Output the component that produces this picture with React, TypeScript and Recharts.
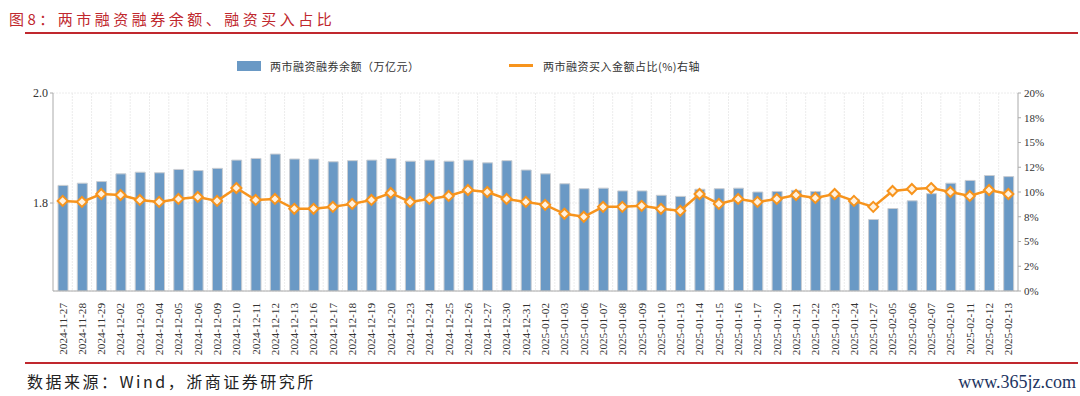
import React from 'react';
import { ComposedChart, Bar, Line, XAxis, YAxis, CartesianGrid } from 'recharts';

const dates = [
  '2024-11-27', '2024-11-28', '2024-11-29', '2024-12-02', '2024-12-03', '2024-12-04', '2024-12-05',
  '2024-12-06', '2024-12-09', '2024-12-10', '2024-12-11', '2024-12-12', '2024-12-13', '2024-12-16',
  '2024-12-17', '2024-12-18', '2024-12-19', '2024-12-20', '2024-12-23', '2024-12-24', '2024-12-25',
  '2024-12-26', '2024-12-27', '2024-12-30', '2024-12-31', '2025-01-02', '2025-01-03', '2025-01-06',
  '2025-01-07', '2025-01-08', '2025-01-09', '2025-01-10', '2025-01-13', '2025-01-14', '2025-01-15',
  '2025-01-16', '2025-01-17', '2025-01-20', '2025-01-21', '2025-01-22', '2025-01-23', '2025-01-24',
  '2025-01-27', '2025-02-05', '2025-02-06', '2025-02-07', '2025-02-10', '2025-02-11', '2025-02-12',
  '2025-02-13',
];

// 两市融资融券余额（万亿元）
const balance = [
  1.832, 1.836, 1.839, 1.853, 1.856, 1.855, 1.861,
  1.859, 1.863, 1.878, 1.881, 1.889, 1.880, 1.880,
  1.875, 1.877, 1.878, 1.881, 1.876, 1.878, 1.876,
  1.878, 1.873, 1.877, 1.860, 1.853, 1.835, 1.826,
  1.827, 1.822, 1.822, 1.814, 1.812, 1.825, 1.826,
  1.827, 1.820, 1.821, 1.823, 1.821, 1.818, 1.807,
  1.770, 1.790, 1.804, 1.817, 1.836, 1.841, 1.850,
  1.848,
];

// 两市融资买入金额占比(%)
const ratio = [
  9.1, 9.0, 9.8, 9.7, 9.2, 9.0, 9.3,
  9.5, 9.1, 10.4, 9.2, 9.3, 8.3, 8.3,
  8.5, 8.8, 9.2, 9.9, 9.0, 9.3, 9.6,
  10.2, 10.0, 9.3, 9.0, 8.7, 7.8, 7.5,
  8.5, 8.5, 8.6, 8.3, 8.1, 9.8, 8.8,
  9.3, 9.0, 9.3, 9.7, 9.4, 9.8, 9.1,
  8.5, 10.1, 10.3, 10.4, 10.0, 9.6, 10.2,
  9.8,
];

const leftTicks = [1.8, 2.0];
const rightTicks = [0, 2.5, 5, 7.5, 10, 12.5, 15, 17.5, 20];
const rightTickLabels = ['0%', '2%', '5%', '8%', '10%', '12%', '15%', '18%', '20%'];

const titleText = '图8：两市融资融券余额、融资买入占比';
const barName = '两市融资融券余额（万亿元）';
const lineName = '两市融资买入金额占比(%)右轴';
const sourceText = '数据来源：Wind，浙商证券研究所';
const siteText = 'www.365jz.com';

const data = dates.map((d, i) => ({ date: d, balance: balance[i], ratio: ratio[i] }));

const BAR_COLOR = '#6A99C5';
const LINE_COLOR = '#F7941D';
const RED = '#C0282E';
const SERIF = '"Liberation Serif", "Times New Roman", serif';
const CJK = '"Noto Sans CJK SC", sans-serif';

const Diamond = (props: any) => {
  const { cx, cy } = props;
  if (cx == null || cy == null) return null;
  const r = 5;
  return (
    <polygon
      points={`${cx},${cy - r} ${cx + r},${cy} ${cx},${cy + r} ${cx - r},${cy}`}
      fill="#FFF1DE"
      stroke={LINE_COLOR}
      strokeWidth={2}
    />
  );
};

const XTick = (props: any) => {
  const { x, y, payload } = props;
  return (
    <g transform={`translate(${x},${y + 4}) rotate(-90)`}>
      <text x={0} y={0} dy="0.35em" textAnchor="end" fontSize={11.2} fill="#333" fontFamily={SERIF}>
        {payload.value}
      </text>
    </g>
  );
};

const RightTick = (props: any) => {
  const { x, y, payload, index } = props;
  return (
    <text x={x + 1} y={y} dy="0.35em" textAnchor="start" fontSize={11} fill="#333" fontFamily={SERIF}>
      {rightTickLabels[index] ?? payload.value}
    </text>
  );
};

export default function App() {
  return (
    <div style={{ position: 'absolute', left: 0, top: 0, width: 1080, height: 396, background: '#fff', overflow: 'hidden' }}>
      <div
        style={{
          position: 'absolute', left: 9, top: 10, fontFamily: CJK, fontSize: 15, color: RED,
          letterSpacing: 3.5, lineHeight: '18px', whiteSpace: 'nowrap',
        }}
      >
        {titleText}
      </div>
      <div style={{ position: 'absolute', left: 25, top: 32, width: 1053, height: 2, background: RED }} />

      <div style={{ position: 'absolute', left: 237, top: 61, width: 24, height: 10, background: BAR_COLOR }} />
      <div
        style={{
          position: 'absolute', left: 270, top: 58, fontFamily: CJK, fontSize: 11, color: '#333',
          lineHeight: '16px', whiteSpace: 'nowrap', letterSpacing: 0.5,
        }}
      >
        {barName}
      </div>
      <div style={{ position: 'absolute', left: 509, top: 64, width: 24, height: 2.5, background: LINE_COLOR }} />
      <div
        style={{
          position: 'absolute', left: 543, top: 58, fontFamily: CJK, fontSize: 11, color: '#333',
          lineHeight: '16px', whiteSpace: 'nowrap', letterSpacing: 0.5,
        }}
      >
        {lineName}
      </div>

      <div style={{ position: 'absolute', left: 0, top: 0 }}>
        <ComposedChart width={1080} height={396} data={data} margin={{ top: 93, right: 0, bottom: 0, left: 0 }}>
          <CartesianGrid
            yAxisId="left"
            stroke="#ececec"
            strokeDasharray="2 1"
            verticalCoordinatesGenerator={({ offset }: any) => {
              const n = dates.length;
              const arr: number[] = [];
              for (let i = 1; i < n; i++) arr.push(offset.left + (offset.width * i) / n);
              return arr;
            }}
          />
          <XAxis
            dataKey="date"
            interval={0}
            height={105}
            tick={<XTick />}
            tickLine={false}
            axisLine={{ stroke: '#aaa' }}
          />
          <YAxis
            yAxisId="left"
            orientation="left"
            width={53}
            domain={[1.64, 2.0]}
            ticks={leftTicks}
            tickFormatter={(v: number) => v.toFixed(1)}
            tick={{ fontSize: 12, fill: '#333', fontFamily: SERIF }}
            tickLine={{ stroke: '#aaa' }}
            tickSize={3}
            axisLine={{ stroke: '#aaa' }}
            allowDataOverflow
          />
          <YAxis
            yAxisId="right"
            orientation="right"
            width={62}
            domain={[0, 20]}
            ticks={rightTicks}
            tick={<RightTick />}
            tickLine={{ stroke: '#aaa' }}
            tickSize={3}
            axisLine={{ stroke: '#aaa' }}
          />
          <Bar
            yAxisId="left"
            dataKey="balance"
            name={barName}
            fill={BAR_COLOR}
            stroke="#c9cdd2"
            strokeWidth={1}
            barSize={10}
            isAnimationActive={false}
          />
          <Line
            yAxisId="right"
            dataKey="ratio"
            name={lineName}
            stroke={LINE_COLOR}
            strokeWidth={2.5}
            dot={<Diamond />}
            activeDot={false}
            isAnimationActive={false}
          />
        </ComposedChart>
      </div>

      <div style={{ position: 'absolute', left: 25, top: 362, width: 1053, height: 2, background: RED }} />
      <div
        style={{
          position: 'absolute', left: 27, top: 370, fontFamily: CJK, fontSize: 16, color: '#222',
          lineHeight: '22px', whiteSpace: 'nowrap', letterSpacing: 2.5,
        }}
      >
        {sourceText}
      </div>
      <div
        style={{
          position: 'absolute', right: 4, top: 371, fontFamily: SERIF, fontSize: 18, color: '#1d3461',
          lineHeight: '22px', whiteSpace: 'nowrap',
        }}
      >
        {siteText}
      </div>
    </div>
  );
}
